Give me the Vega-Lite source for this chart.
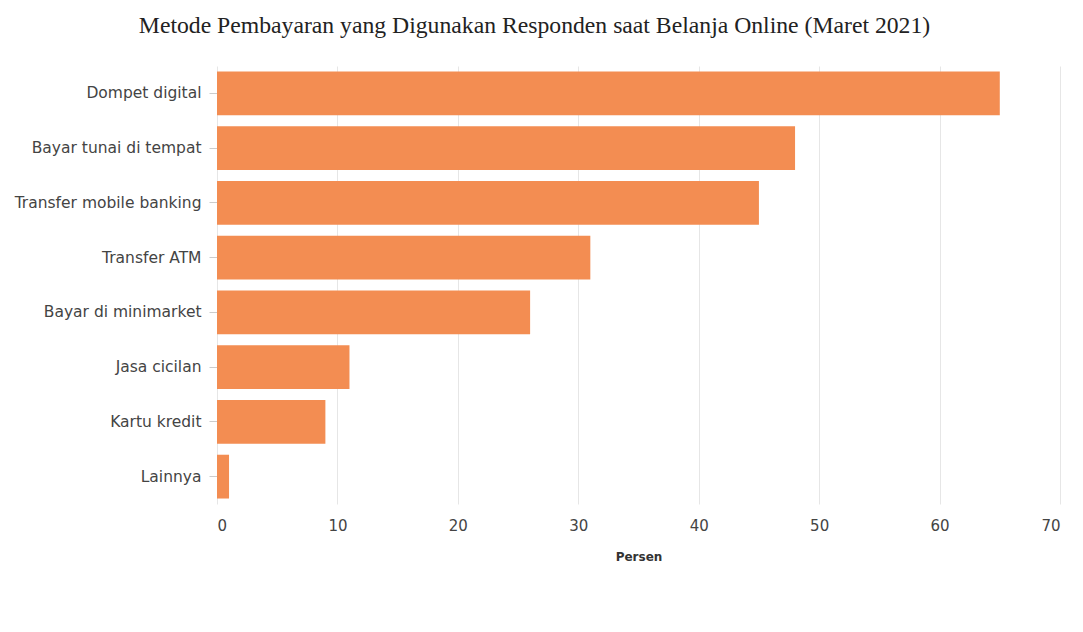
{
  "$schema": "https://vega.github.io/schema/vega-lite/v6.json",
  "autosize": {"type": "none"},
  "width": 843,
  "height": 438,
  "padding": {"left": 217, "top": 66, "right": 23, "bottom": 128},
  "background": "white",
  "title": {
    "text": "Metode Pembayaran yang Digunakan Responden saat Belanja Online (Maret 2021)",
    "font": "Liberation Serif",
    "fontSize": 23.7,
    "fontWeight": "normal",
    "color": "#222222",
    "anchor": "middle",
    "dx": -104,
    "offset": 28
  },
  "data": {
    "values": [
      {"metode": "Dompet digital", "persen": 65},
      {"metode": "Bayar tunai di tempat", "persen": 48},
      {"metode": "Transfer mobile banking", "persen": 45},
      {"metode": "Transfer ATM", "persen": 31},
      {"metode": "Bayar di minimarket", "persen": 26},
      {"metode": "Jasa cicilan", "persen": 11},
      {"metode": "Kartu kredit", "persen": 9},
      {"metode": "Lainnya", "persen": 1}
    ]
  },
  "mark": {"type": "bar", "color": "#F38D52"},
  "encoding": {
    "y": {
      "field": "metode",
      "type": "nominal",
      "sort": null,
      "scale": {"paddingInner": 0.2, "paddingOuter": 0.1},
      "axis": {
        "title": null,
        "labelFont": "DejaVu Sans",
        "labelFontSize": 15.5,
        "labelColor": "#444444",
        "labelLimit": 400,
        "domain": false,
        "ticks": true,
        "tickColor": "#cccccc",
        "tickSize": 8,
        "labelPadding": 8
      }
    },
    "x": {
      "field": "persen",
      "type": "quantitative",
      "scale": {"domain": [0, 70]},
      "axis": {
        "title": "Persen",
        "titleFont": "DejaVu Sans",
        "titleFontSize": 12,
        "titleFontWeight": "bold",
        "titleColor": "#333333",
        "titlePadding": 18,
        "values": [0, 10, 20, 30, 40, 50, 60, 70],
        "labelFont": "DejaVu Sans",
        "labelFontSize": 15,
        "labelColor": "#444444",
        "labelPadding": 14,
        "domain": false,
        "ticks": false,
        "grid": true,
        "gridColor": "#e6e6e6"
      }
    }
  },
  "config": {"view": {"stroke": null}}
}
